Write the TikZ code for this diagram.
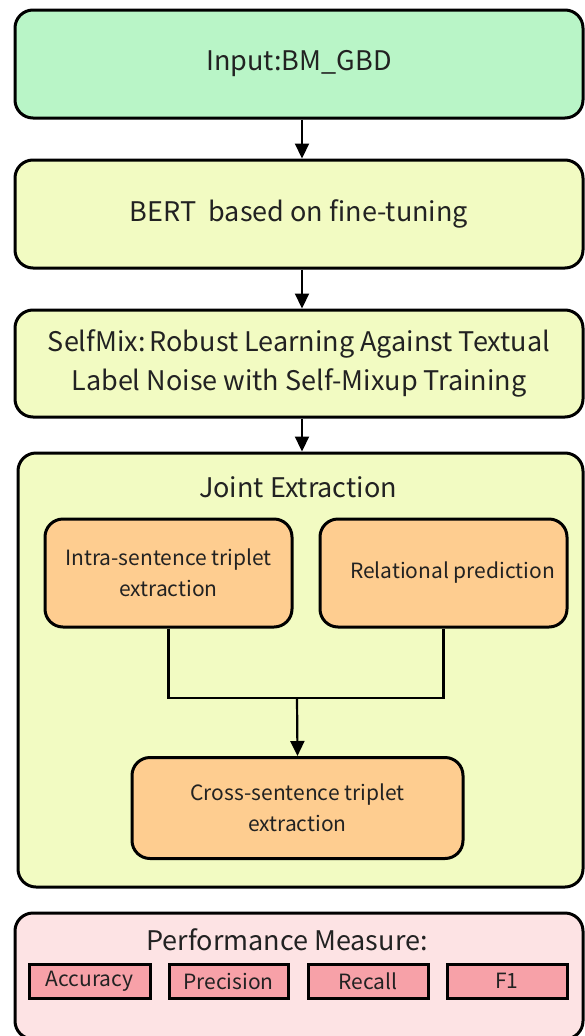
\documentclass[tikz,border=0pt]{standalone}
\usepackage{fontspec}
\setmainfont{Noto Sans CJK SC}
\usetikzlibrary{arrows.meta,positioning}
\definecolor{inputgreen}{HTML}{B9F5C7}
\definecolor{stageyellow}{HTML}{F2FBC2}
\definecolor{taskorange}{HTML}{FECD90}
\definecolor{measurebg}{HTML}{FDE3E4}
\definecolor{measurebox}{HTML}{F7A1A8}
\definecolor{ink}{HTML}{222222}
\tikzset{
  stagebox/.style={draw=black, line width=3pt, rounded corners=18pt, align=center,
    text=ink, font=\fontsize{27}{39}\selectfont, inner sep=0pt},
  taskbox/.style={draw=black, line width=3pt, rounded corners=18pt, fill=taskorange,
    align=center, text=ink, font=\fontsize{21}{31}\selectfont, inner sep=0pt},
  metricbox/.style={draw=black, line width=3pt, fill=measurebox, text=ink,
    font=\fontsize{21}{24}\selectfont, inner sep=0pt},
  heading/.style={text=ink, font=\fontsize{27}{30}\selectfont},
  flow/.style={line width=2.2pt, -{Triangle[width=14pt,length=15pt]}},
  link/.style={line width=2.2pt},
}
\begin{document}
\begin{tikzpicture}[x=1pt,y=-1pt]
  \useasboundingbox (0,0) rectangle (585,1036);
  % main pipeline stages
  \node[stagebox, fill=inputgreen, minimum width=568pt, minimum height=108pt] (input) at (299,64) {Input:BM\_GBD};
  \node[stagebox, fill=stageyellow, minimum width=568pt, minimum height=108pt] (bert) at (299,214) {BERT\ \ based on fine-tuning};
  \node[stagebox, fill=stageyellow, minimum width=568pt, minimum height=107pt] (selfmix) at (299,363.5) {SelfMix:\kern-2pt\ Robust Learning Against Textual\\Label Noise with Self-Mixup Training};
  \node[stagebox, fill=stageyellow, minimum width=565pt, minimum height=434pt] (joint) at (300.5,670) {};
  \node[heading] (jointtitle) at (298,487) {Joint Extraction};
  % joint extraction sub-tasks
  \node[taskbox, minimum width=247pt, minimum height=108pt] (intra) at (168.5,573) {Intra-sentence triplet\\extraction};
  \node[taskbox, minimum width=247pt, minimum height=108pt] (rel) at (443.5,573) {\hspace*{18pt}Relational prediction};
  \node[taskbox, minimum width=331pt, minimum height=101pt] (cross) at (297.5,808) {Cross-sentence triplet\\extraction};
  % evaluation block
  \node[stagebox, fill=measurebg, minimum width=568pt, minimum height=126pt] (perf) at (299,976) {};
  \node[heading] (perftitle) at (287,940) {Performance Measure:};
  \node[metricbox, minimum width=121pt, minimum height=34pt] (acc) at (89.5,981) {Accuracy};
  \node[metricbox, minimum width=119pt, minimum height=34pt] (prec) at (228.5,981) {Precision};
  \node[metricbox, minimum width=120pt, minimum height=34pt] (recall) at (368,981) {Recall};
  \node[metricbox, minimum width=120pt, minimum height=34pt] (f1) at (507,981) {F1};
  % connectors
  \draw[flow] (input.south -| 302,0) -- (bert.north -| 302,0);
  \draw[flow] (bert.south -| 302,0) -- (selfmix.north -| 302,0);
  \draw[flow] (selfmix.south -| 302,0) -- (joint.north -| 302,0);
  \coordinate (merge) at (297,698);
  \draw[link] (intra.south) |- (merge) -| (rel.south);
  \draw[flow] (merge) -- (cross.north);
\end{tikzpicture}
\end{document}
